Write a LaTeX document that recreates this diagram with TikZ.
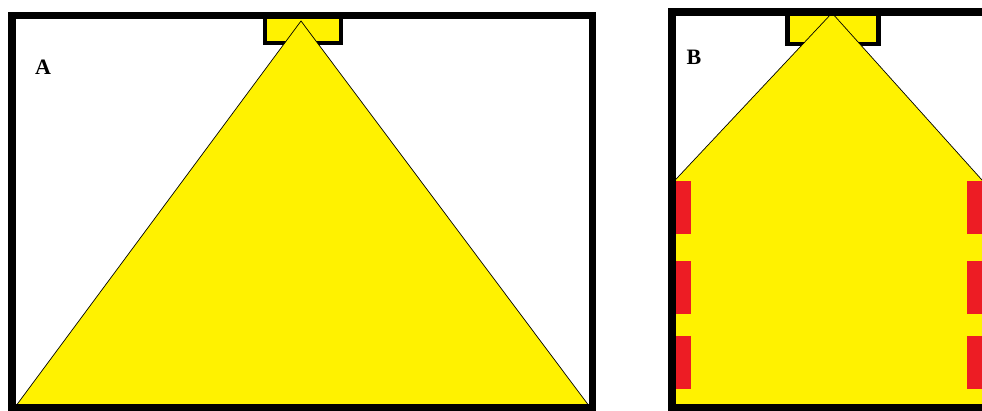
\documentclass[tikz,border=0pt]{standalone}
\usepackage{fontspec}
\setmainfont{Liberation Serif}
\usetikzlibrary{calc}
\definecolor{paintyellow}{RGB}{255,242,0}
\definecolor{paintred}{RGB}{237,28,36}

\begin{document}
\begin{tikzpicture}
	[x=1pt,y=-1pt,
	 wall/.style={line width=7.5pt,line join=miter},
	 lamp/.style={fill=paintyellow,draw=black,line width=4.5pt},
	 beam/.style={fill=paintyellow,draw=black,line width=0.7pt},
	 redbar/.style={fill=paintred},
	 tag/.style={font=\fontsize{22}{24}\selectfont\bfseries,inner sep=0pt}]
	\useasboundingbox (0,0) rectangle (982,411);
	\clip (0,0) rectangle (982,411);
	%
	% room A
	%
	\coordinate (A1) at (12,15.5);
	\coordinate (A2) at (592.5,408);
	\coordinate (SA) at (301,21);
	\coordinate (LA) at (17,404.5);
	\coordinate (RA) at (588,404.5);

	% lamp and light cone
	\draw[lamp] (265,15.5) rectangle (341,43);
	\draw[beam] (SA) -- (LA) -- (RA) -- cycle;

	% walls
	\draw[wall] (A1) rectangle (A2);
	\node[tag] (labA) at (43,67) {A};

	%
	% room B
	%
	\coordinate (SB) at (832,13);
	\coordinate (LB) at (464,405);
	\coordinate (RB) at (1184,405);

	% lamp and light cone
	\draw[lamp] (787.5,12) rectangle (878.5,44);
	\begin{scope}
		\clip (672,12) rectangle (990,408);
		\draw[beam] (SB) -- (LB) -- (RB) -- cycle;
	\end{scope}

	% red patches on the walls
	\foreach \ya in {181,261,336}{
		\fill[redbar] (675.75,\ya) rectangle (691,\ya+53);
		\fill[redbar] (967,\ya) rectangle (982,\ya+53);
	}

	% walls
	\draw[wall] (990,12) -- (672,12) -- (672,408) -- (990,408);
	\node[tag] (labB) at (694,57.5) {B};

\end{tikzpicture}
\end{document}
